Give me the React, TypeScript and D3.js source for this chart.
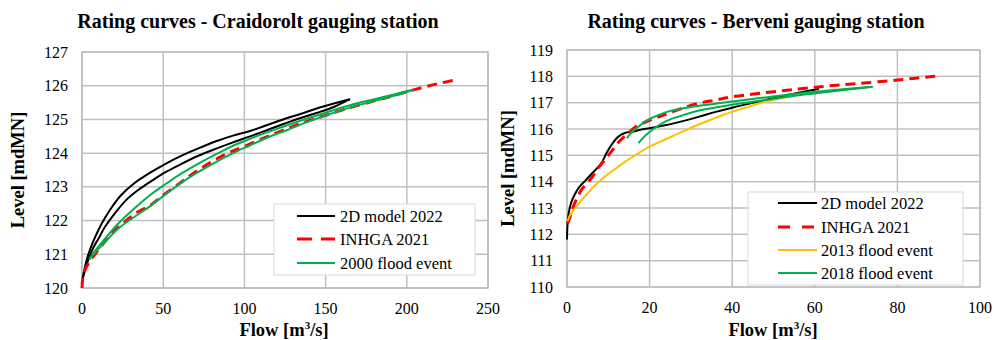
import * as d3 from 'd3';
import React from 'react';

type Pt = [number, number];

// Craidorolt station: [flow m3/s, level mdMN]
const craidoModelUpper: Pt[] = [
  [0.5, 120.3], [1.5, 120.55], [3, 120.85], [5, 121.15], [8, 121.5], [12, 121.9], [17, 122.3],
  [24, 122.75], [32, 123.1], [42, 123.42], [52, 123.7], [62, 123.94], [72, 124.15], [83, 124.36],
  [93, 124.52], [103, 124.65], [115, 124.85], [125, 125.02], [135, 125.17], [145, 125.33],
  [155, 125.47], [165, 125.6],
];
const craidoModelLower: Pt[] = [
  [0.5, 120.3], [2, 120.55], [4, 120.85], [7, 121.2], [10, 121.45], [14, 121.8], [20, 122.2],
  [27, 122.6], [35, 122.92], [42, 123.15], [52, 123.45], [62, 123.7], [72, 123.93], [83, 124.14],
  [93, 124.32], [103, 124.49], [115, 124.7], [125, 124.88], [135, 125.05], [145, 125.2],
  [155, 125.37], [165, 125.6],
];
const craidoInhga: Pt[] = [
  [0, 120], [0.5, 120.3], [2, 120.55], [4.7, 120.79], [8, 121.0], [12, 121.25], [18, 121.6],
  [26, 121.95], [34, 122.25], [42, 122.45], [50, 122.75], [60, 123.1], [70, 123.45], [80, 123.75],
  [90, 124.0], [100, 124.2], [112, 124.45], [124, 124.68], [137, 124.92], [150, 125.12],
  [165, 125.35], [180, 125.55], [190, 125.68], [200, 125.82], [210, 125.95], [220, 126.07],
  [229, 126.16],
];
const craidoFlood2000Upper: Pt[] = [
  [4.5, 120.85], [8, 121.1], [14, 121.45], [22, 121.9], [32, 122.35], [42, 122.76], [52, 123.1],
  [62, 123.42], [72, 123.7], [83, 123.98], [93, 124.22], [103, 124.42], [120, 124.72],
  [135, 124.97], [150, 125.2], [165, 125.42], [180, 125.6], [192, 125.74], [204, 125.88],
];
const craidoFlood2000Lower: Pt[] = [
  [4.5, 120.85], [8, 121.05], [14, 121.35], [22, 121.75], [32, 122.1], [42, 122.43], [52, 122.8],
  [62, 123.15], [72, 123.45], [83, 123.75], [93, 124.0], [103, 124.22], [115, 124.48],
  [126, 124.68], [140, 124.95], [152, 125.15], [165, 125.35], [180, 125.55], [192, 125.7],
  [204, 125.88],
];

// Berveni station: [flow m3/s, level mdMN]
const berveniModel: Pt[] = [
  [0, 111.8], [0.1, 112.3], [0.4, 112.8], [1, 113.2], [2, 113.55], [3, 113.8], [4.5, 114.05],
  [6, 114.3], [7.5, 114.55], [8.5, 114.75], [9.3, 115.0], [10, 115.2], [11, 115.45],
  [12.5, 115.72], [14, 115.85], [16, 115.9], [18, 115.98], [20, 116.03], [24, 116.15],
  [28, 116.3], [32, 116.47], [36, 116.65], [40, 116.81], [48, 117.1], [56, 117.38], [61, 117.52],
];
const berveniInhga: Pt[] = [
  [0, 112.4], [0.4, 112.5], [1, 112.8], [1.85, 113.18], [3.5, 113.69], [5.9, 114.13],
  [7.5, 114.51], [9.5, 114.89], [11, 115.2], [12.8, 115.55], [14.5, 115.8], [16.8, 116.1],
  [19.5, 116.3], [22.5, 116.48], [25, 116.62], [28.1, 116.8], [32, 116.98], [36, 117.1],
  [40, 117.22], [48, 117.38], [56, 117.52], [63, 117.63], [70, 117.72], [80, 117.86], [89.5, 118.01],
];
const berveniFlood2013: Pt[] = [
  [0.2, 112.5], [0.4, 112.62], [1, 112.8], [2.3, 113.06], [3.5, 113.3], [5.1, 113.57],
  [6.5, 113.82], [8.3, 114.07], [10, 114.3], [12, 114.52], [14, 114.75], [17, 115.05],
  [20, 115.33], [24, 115.62], [28, 115.9], [32, 116.18], [36, 116.42], [40, 116.66],
  [44, 116.85], [48, 117.04], [52, 117.17], [56, 117.29], [62, 117.42], [70, 117.55],
];
const berveniFlood2018Rise: Pt[] = [
  [17.3, 115.46], [19, 115.75], [20.9, 116.0], [24, 116.3], [28, 116.52], [32, 116.7],
  [40, 116.92], [48, 117.1], [56, 117.28], [64, 117.42], [74, 117.6],
];
const berveniFlood2018Fall: Pt[] = [
  [74, 117.6], [64, 117.47], [56, 117.35], [48, 117.2], [40, 117.04], [32, 116.88], [28, 116.78],
  [24, 116.64], [21, 116.45], [19, 116.3], [17, 116.05], [15.5, 115.85], [14.5, 115.65],
];

const xTicksCraido = [0, 50, 100, 150, 200, 250];
const yTicksCraido = [120, 121, 122, 123, 124, 125, 126, 127];
const xTicksBerveni = [0, 20, 40, 60, 80, 100];
const yTicksBerveni = [110, 111, 112, 113, 114, 115, 116, 117, 118, 119];

type Series = { name: string; color: string; width: number; dash?: string; legendDash?: string; parts: Pt[][] };

const FONT = 'Liberation Serif';
const GRID = '#bfbfbf';

type ChartCfg = {
  title: string;
  titleX: number;
  box: [number, number, number, number]; // x0, y0, x1, y1
  xTicks: number[];
  yTicks: number[];
  yLabelX: number;
  xLabelX: number;
  series: Series[];
  legend: { x: number; y: number; w: number; h: number; rows: number[]; lx0: number; lx1: number; tx: number };
};

function drawChart(svg: d3.Selection<SVGSVGElement, unknown, null, undefined>, cfg: ChartCfg) {
  const [x0, y0, x1, y1] = cfg.box;
  const x = d3.scaleLinear().domain(d3.extent(cfg.xTicks) as [number, number]).range([x0, x1]);
  const y = d3.scaleLinear().domain(d3.extent(cfg.yTicks) as [number, number]).range([y1, y0]);
  const g = svg.append('g').attr('font-family', FONT).attr('fill', '#000');

  g.append('rect').attr('x', x0).attr('y', y0).attr('width', x1 - x0).attr('height', y1 - y0)
    .attr('fill', 'white').attr('stroke', GRID).attr('stroke-width', 1.5);

  g.selectAll('.vg').data(cfg.xTicks).enter().append('line')
    .attr('x1', (d) => x(d)).attr('x2', (d) => x(d)).attr('y1', y0).attr('y2', y1)
    .attr('stroke', GRID).attr('stroke-width', 1.5);
  g.selectAll('.hg').data(cfg.yTicks).enter().append('line')
    .attr('x1', x0).attr('x2', x1).attr('y1', (d) => y(d)).attr('y2', (d) => y(d))
    .attr('stroke', GRID).attr('stroke-width', 1.5);

  g.selectAll('.xt').data(cfg.xTicks).enter().append('text')
    .attr('x', (d) => x(d)).attr('y', y1 + 26).attr('text-anchor', 'middle')
    .attr('font-size', 16).text((d) => d);
  g.selectAll('.yt').data(cfg.yTicks).enter().append('text')
    .attr('x', x0 - 14).attr('y', (d) => y(d) + 5.5).attr('text-anchor', 'end')
    .attr('font-size', 16).text((d) => d);

  g.append('text').attr('x', cfg.titleX).attr('y', 28).attr('text-anchor', 'middle')
    .attr('font-size', 20).attr('font-weight', 'bold').text(cfg.title);

  const xl = g.append('text').attr('x', cfg.xLabelX).attr('y', 336).attr('text-anchor', 'middle')
    .attr('font-size', 18.5).attr('font-weight', 'bold');
  xl.append('tspan').text('Flow [m');
  xl.append('tspan').attr('dy', -7).attr('font-size', 11).text('3');
  xl.append('tspan').attr('dy', 7).text('/s]');

  g.append('text').attr('transform', `translate(${cfg.yLabelX}, ${(y0 + y1) / 2}) rotate(-90)`)
    .attr('text-anchor', 'middle').attr('font-size', 18.5).attr('font-weight', 'bold').text('Level [mdMN]');

  const line = d3.line<Pt>().x((d) => x(d[0])).y((d) => y(d[1])).curve(d3.curveCatmullRom.alpha(0.5));
  const plot = g.append('g');
  cfg.series.forEach((s) => {
    s.parts.forEach((p) => {
      plot.append('path').attr('d', line(p)).attr('fill', 'none').attr('stroke', s.color)
        .attr('stroke-width', s.width).attr('stroke-dasharray', s.dash ?? null)
        .attr('stroke-linejoin', 'round');
    });
  });

  const L = cfg.legend;
  g.append('rect').attr('x', L.x).attr('y', L.y).attr('width', L.w).attr('height', L.h)
    .attr('fill', 'white').attr('stroke', '#d9d9d9').attr('stroke-width', 1);
  cfg.series.forEach((s, i) => {
    g.append('line').attr('x1', L.lx0).attr('x2', L.lx1).attr('y1', L.rows[i]).attr('y2', L.rows[i])
      .attr('stroke', s.color).attr('stroke-width', s.width).attr('stroke-dasharray', s.legendDash ?? null);
    g.append('text').attr('x', L.tx).attr('y', L.rows[i] + 5.5).attr('font-size', 16.5).text(s.name);
  });
}

export default function App() {
  const svgRef = React.useRef<SVGSVGElement>(null);

  React.useEffect(() => {
    if (svgRef.current == null) {
      return;
    }
    const svg = d3.select(svgRef.current);
    svg.selectAll('*').remove();

    drawChart(svg, {
      title: 'Rating curves - Craidorolt gauging station',
      titleX: 258,
      box: [82, 52, 488, 288],
      xTicks: xTicksCraido,
      yTicks: yTicksCraido,
      yLabelX: 24,
      xLabelX: 284,
      series: [
        { name: '2D model 2022', color: '#000000', width: 2, parts: [craidoModelUpper, craidoModelLower] },
        { name: 'INHGA 2021', color: '#ff0000', width: 3, dash: '10,6', legendDash: '15,9', parts: [craidoInhga] },
        { name: '2000 flood event', color: '#00b050', width: 2, parts: [craidoFlood2000Upper, craidoFlood2000Lower] },
      ],
      legend: { x: 274, y: 204, w: 201, h: 71, rows: [216, 239, 263], lx0: 297, lx1: 335, tx: 340 },
    });

    drawChart(svg, {
      title: 'Rating curves - Berveni gauging station',
      titleX: 756,
      box: [567, 50, 980, 287],
      xTicks: xTicksBerveni,
      yTicks: yTicksBerveni,
      yLabelX: 514,
      xLabelX: 773,
      series: [
        { name: '2D model 2022', color: '#000000', width: 2, parts: [berveniModel] },
        { name: 'INHGA 2021', color: '#ff0000', width: 3, dash: '10,6', legendDash: '12,12', parts: [berveniInhga] },
        { name: '2013 flood event', color: '#ffc000', width: 2, parts: [berveniFlood2013] },
        { name: '2018 flood event', color: '#00b050', width: 2, parts: [berveniFlood2018Rise, berveniFlood2018Fall] },
      ],
      legend: { x: 748, y: 192, w: 215, h: 93, rows: [203, 227, 250, 273], lx0: 778, lx1: 817, tx: 821 },
    });
  }, []);

  return (
    <svg ref={svgRef} width={994} height={340} style={{ position: 'absolute', left: 0, top: 0, background: 'white' }}></svg>
  );
}
